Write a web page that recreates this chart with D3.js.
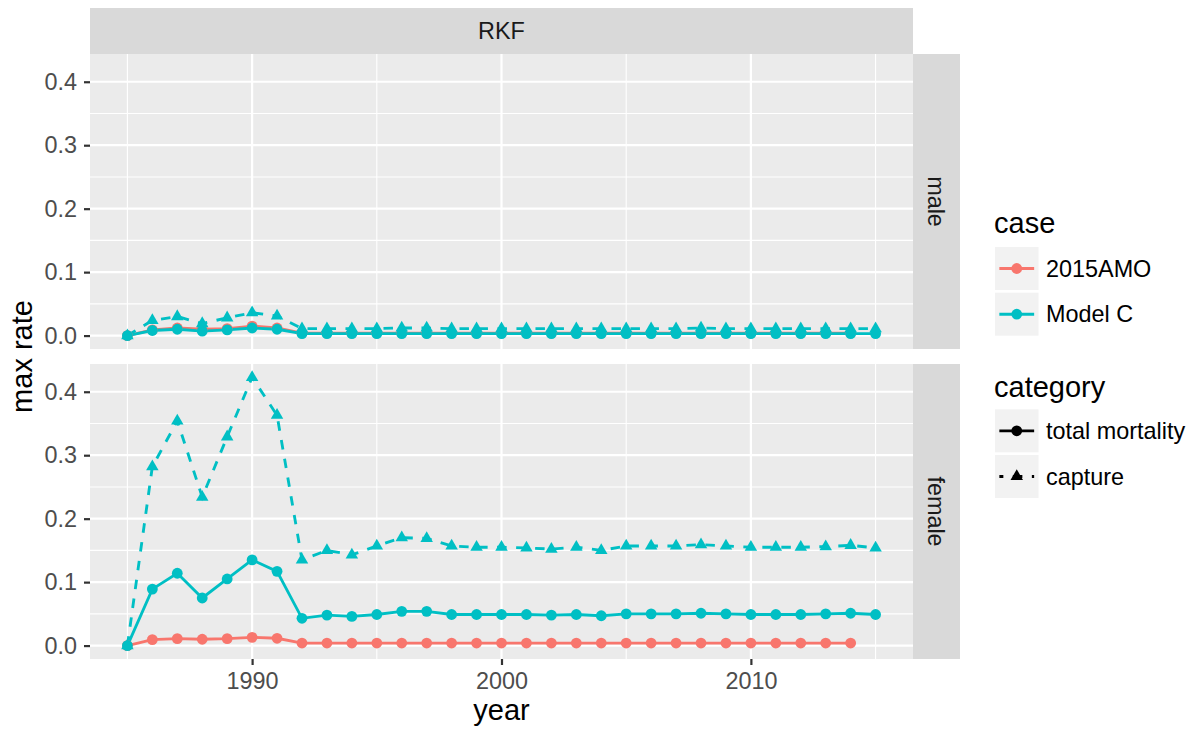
<!DOCTYPE html>
<html>
<head>
<meta charset="utf-8">
<script src="https://cdn.jsdelivr.net/npm/d3@7"></script>
<style>
  html, body { margin: 0; padding: 0; background: #ffffff; }
  svg { display: block; font-family: "Liberation Sans", Arial, Helvetica, sans-serif; }
</style>
</head>
<body>
<svg id="chart" width="1198" height="730"></svg>
<script>
// ---------------- data ----------------
const years = [1985,1986,1987,1988,1989,1990,1991,1992,1993,1994,1995,1996,1997,1998,1999,2000,
               2001,2002,2003,2004,2005,2006,2007,2008,2009,2010,2011,2012,2013,2014,2015];
const facetRows = ["male", "female"];
const stripTop = "RKF";
const cases = ["2015AMO", "Model C"];
const caseColors = ["#F8766D", "#00BFC4"];
const categories = ["total mortality", "capture"];
const yTicks = [0, 0.1, 0.2, 0.3, 0.4];
const xTicks = [1990, 2000, 2010];
const xMinor = [1985, 1995, 2005, 2015];
const yMinor = [0.05, 0.15, 0.25, 0.35];

// male
const maleAMOTotal = [0, 0.009, 0.012, 0.010, 0.011, 0.015, 0.012, 0.004, 0.004, 0.004, 0.004, 0.004, 0.004, 0.004, 0.004,
                      0.004, 0.004, 0.004, 0.004, 0.004, 0.004, 0.004, 0.004, 0.004, 0.004, 0.004, 0.004, 0.004, 0.004, 0.004];
const maleModelCTotal = [0, 0.008, 0.010, 0.007, 0.009, 0.012, 0.010, 0.003, 0.003, 0.003, 0.003, 0.003, 0.003, 0.003, 0.003,
                         0.003, 0.003, 0.003, 0.003, 0.003, 0.003, 0.003, 0.003, 0.003, 0.003, 0.003, 0.003, 0.003, 0.003, 0.003, 0.003];
const maleModelCCapture = [0, 0.024, 0.030, 0.019, 0.028, 0.036, 0.031, 0.011, 0.011, 0.011, 0.011, 0.012, 0.012, 0.011, 0.011,
                           0.011, 0.011, 0.011, 0.011, 0.011, 0.011, 0.011, 0.011, 0.012, 0.011, 0.011, 0.011, 0.011, 0.011, 0.011, 0.011];
// female
const femaleAMOTotal = [0, 0.0095, 0.011, 0.010, 0.011, 0.013, 0.0115, 0.004, 0.004, 0.004, 0.004, 0.004, 0.004, 0.004, 0.004,
                        0.004, 0.004, 0.004, 0.004, 0.004, 0.004, 0.004, 0.004, 0.004, 0.004, 0.004, 0.004, 0.004, 0.004, 0.004];
const femaleModelCTotal = [0, 0.089, 0.114, 0.075, 0.105, 0.135, 0.117, 0.043, 0.048, 0.046, 0.049, 0.054, 0.054, 0.049, 0.049,
                           0.049, 0.049, 0.048, 0.049, 0.047, 0.050, 0.050, 0.050, 0.051, 0.050, 0.049, 0.049, 0.049, 0.050, 0.051, 0.049];
const femaleModelCCapture = [0, 0.282, 0.354, 0.234, 0.329, 0.4226, 0.363, 0.135, 0.150, 0.143, 0.157, 0.170, 0.169, 0.157, 0.155,
                             0.155, 0.154, 0.152, 0.155, 0.150, 0.157, 0.157, 0.157, 0.159, 0.157, 0.155, 0.155, 0.155, 0.156, 0.158, 0.154];

const seriesByFacet = {
  male: [
    {caseIdx: 0, catIdx: 0, values: maleAMOTotal},
    {caseIdx: 1, catIdx: 0, values: maleModelCTotal},
    {caseIdx: 1, catIdx: 1, values: maleModelCCapture}
  ],
  female: [
    {caseIdx: 0, catIdx: 0, values: femaleAMOTotal},
    {caseIdx: 1, catIdx: 0, values: femaleModelCTotal},
    {caseIdx: 1, catIdx: 1, values: femaleModelCCapture}
  ]
};

// ---------------- layout ----------------
const svg = d3.select("#chart");
const panelLeft = 90, panelRight = 913;
const panels = [{top: 54, bottom: 349}, {top: 364, bottom: 659}];
const stripW = 47;
const smallFont = 23.4, bigFont = 29;
const lineW = 2.85, circleR = 5.4, triR = 7.2;
const dash = "9.5,9.5";

const allVals = [].concat(...Object.values(seriesByFacet).map(a => [].concat(...a.map(s => s.values))));
const yMin = Math.min(0, d3.min(allVals)), yMax = d3.max(allVals);
const yPad = (yMax - yMin) * 0.05;
const xPad = (d3.max(years) - d3.min(years)) * 0.05;
const x = d3.scaleLinear().domain([d3.min(years) - xPad, d3.max(years) + xPad]).range([panelLeft, panelRight]);

function trianglePath(r) {
  const h = r * Math.sqrt(3) / 2;
  return `M0,${-r}L${h},${r/2}L${-h},${r/2}Z`;
}

// top strip
svg.append("rect").attr("x", panelLeft).attr("y", 8).attr("width", panelRight - panelLeft).attr("height", 46).attr("fill", "#D9D9D9");
svg.append("text").attr("x", (panelLeft + panelRight) / 2).attr("y", 31).attr("dy", "0.35em")
  .attr("text-anchor", "middle").attr("font-size", smallFont).attr("fill", "#1A1A1A").text(stripTop);

facetRows.forEach((facet, fi) => {
  const p = panels[fi];
  const y = d3.scaleLinear().domain([yMin - yPad, yMax + yPad]).range([p.bottom, p.top]);
  const g = svg.append("g");
  // background
  g.append("rect").attr("x", panelLeft).attr("y", p.top).attr("width", panelRight - panelLeft)
    .attr("height", p.bottom - p.top).attr("fill", "#EBEBEB");
  // minor grid
  g.selectAll(".ymin").data(yMinor).enter().append("line")
    .attr("x1", panelLeft).attr("x2", panelRight).attr("y1", d => y(d)).attr("y2", d => y(d))
    .attr("stroke", "#fff").attr("stroke-width", 1.1);
  g.selectAll(".xmin").data(xMinor).enter().append("line")
    .attr("y1", p.top).attr("y2", p.bottom).attr("x1", d => x(d)).attr("x2", d => x(d))
    .attr("stroke", "#fff").attr("stroke-width", 1.1);
  // major grid
  g.selectAll(".ymaj").data(yTicks).enter().append("line")
    .attr("x1", panelLeft).attr("x2", panelRight).attr("y1", d => y(d)).attr("y2", d => y(d))
    .attr("stroke", "#fff").attr("stroke-width", 2.2);
  g.selectAll(".xmaj").data(xTicks).enter().append("line")
    .attr("y1", p.top).attr("y2", p.bottom).attr("x1", d => x(d)).attr("x2", d => x(d))
    .attr("stroke", "#fff").attr("stroke-width", 2.2);

  const series = seriesByFacet[facet];
  const clipId = "clip" + fi;
  svg.append("clipPath").attr("id", clipId).append("rect")
    .attr("x", panelLeft).attr("y", p.top).attr("width", panelRight - panelLeft).attr("height", p.bottom - p.top);
  const dg = g.append("g").attr("clip-path", `url(#${clipId})`);
  // lines
  series.forEach(s => {
    const pts = s.values.map((v, i) => [years[i], v]);
    dg.append("path").datum(pts)
      .attr("d", d3.line().x(d => x(d[0])).y(d => y(d[1])))
      .attr("fill", "none").attr("stroke", caseColors[s.caseIdx]).attr("stroke-width", lineW)
      .attr("stroke-dasharray", s.catIdx === 1 ? dash : null);
  });
  // points
  series.forEach(s => {
    const pts = s.values.map((v, i) => [years[i], v]);
    if (s.catIdx === 0) {
      dg.selectAll(null).data(pts).enter().append("circle")
        .attr("cx", d => x(d[0])).attr("cy", d => y(d[1])).attr("r", circleR)
        .attr("fill", caseColors[s.caseIdx]);
    } else {
      dg.selectAll(null).data(pts).enter().append("path")
        .attr("transform", d => `translate(${x(d[0])},${y(d[1])})`)
        .attr("d", trianglePath(triR)).attr("fill", caseColors[s.caseIdx]);
    }
  });

  // y axis
  const ya = svg.append("g").attr("transform", `translate(${panelLeft},0)`)
    .call(d3.axisLeft(y).tickValues(yTicks).tickFormat(d3.format(".1f")).tickSize(6).tickPadding(7));
  ya.select(".domain").remove();
  ya.selectAll(".tick line").attr("stroke", "#333333").attr("stroke-width", 2.2);
  ya.selectAll(".tick text").attr("fill", "#4D4D4D").attr("font-size", smallFont)
    .attr("font-family", "Liberation Sans, Arial, sans-serif");

  // right strip
  svg.append("rect").attr("x", panelRight).attr("y", p.top).attr("width", stripW).attr("height", p.bottom - p.top)
    .attr("fill", "#D9D9D9");
  const cx = panelRight + stripW / 2, cy = (p.top + p.bottom) / 2;
  svg.append("text").attr("transform", `translate(${cx},${cy}) rotate(90)`)
    .attr("text-anchor", "middle").attr("dy", "0.35em").attr("font-size", smallFont).attr("fill", "#1A1A1A").text(facet);

  if (fi === facetRows.length - 1) {
    const xa = svg.append("g").attr("transform", `translate(0,${p.bottom})`)
      .call(d3.axisBottom(x).tickValues(xTicks).tickFormat(d3.format("d")).tickSize(6).tickPadding(7));
    xa.select(".domain").remove();
    xa.selectAll(".tick line").attr("stroke", "#333333").attr("stroke-width", 2.2);
    xa.selectAll(".tick text").attr("fill", "#4D4D4D").attr("font-size", smallFont)
      .attr("font-family", "Liberation Sans, Arial, sans-serif");
  }
});

// axis titles
svg.append("text").attr("x", (panelLeft + panelRight) / 2).attr("y", 720).attr("text-anchor", "middle")
  .attr("font-size", bigFont).attr("fill", "#000").text("year");
svg.append("text").attr("transform", `translate(32,${(panels[0].top + panels[1].bottom) / 2}) rotate(-90)`)
  .attr("text-anchor", "middle").attr("font-size", bigFont).attr("fill", "#000").text("max rate");

// ---------------- legends ----------------
const legX = 995, keyW = 43.5, keyH = 43;
function legendBlock(title, titleY, keysY, items) {
  svg.append("text").attr("x", legX - 1).attr("y", titleY).attr("font-size", bigFont).attr("fill", "#000").text(title);
  items.forEach((it, i) => {
    const ky = keysY + i * (keyH + 2.7);
    svg.append("rect").attr("x", legX).attr("y", ky).attr("width", keyW).attr("height", keyH).attr("fill", "#F2F2F2");
    const my = ky + keyH / 2;
    svg.append("line").attr("x1", legX + 4.35).attr("x2", legX + keyW - 4.35).attr("y1", my).attr("y2", my)
      .attr("stroke", it.color).attr("stroke-width", lineW)
      .attr("stroke-dasharray", it.dashed ? dash : null)
      .attr("stroke-dashoffset", it.dashed ? 5.5 : null);
    if (it.shape === "circle") {
      svg.append("circle").attr("cx", legX + keyW / 2).attr("cy", my).attr("r", circleR).attr("fill", it.color);
    } else {
      svg.append("path").attr("transform", `translate(${legX + keyW / 2},${my})`).attr("d", trianglePath(triR)).attr("fill", it.color);
    }
    svg.append("text").attr("x", 1046).attr("y", my).attr("dy", "0.35em").attr("font-size", smallFont)
      .attr("fill", "#000").text(it.label);
  });
}
legendBlock("case", 233, 247, cases.map((c, i) => ({label: c, color: caseColors[i], shape: "circle", dashed: false})));
legendBlock("category", 397, 409.3, categories.map((c, i) => ({label: c, color: "#000", shape: i === 0 ? "circle" : "triangle", dashed: i === 1})));
</script>
</body>
</html>
